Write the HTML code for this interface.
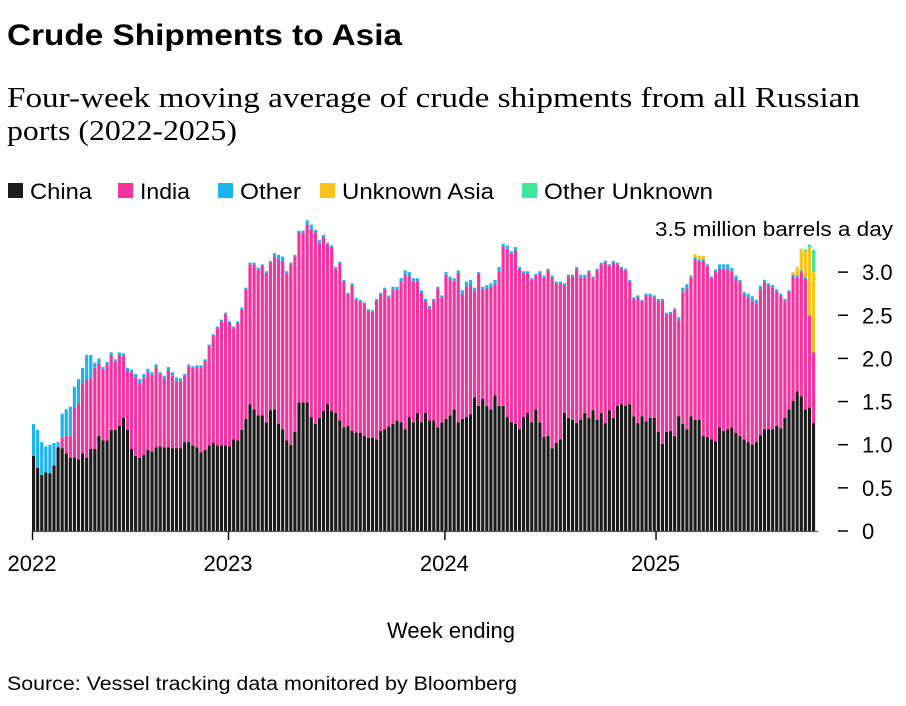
<!DOCTYPE html>
<html><head><meta charset="utf-8"><style>
body{margin:0;background:#fff;width:906px;height:701px;overflow:hidden;font-family:"Liberation Sans",sans-serif;color:#000}
</style></head><body>
<svg width="906" height="701" viewBox="0 0 906 701" id="svg">
<text x="7" y="45" font-size="30" font-weight="bold" textLength="395" lengthAdjust="spacingAndGlyphs">Crude Shipments to Asia</text>
<text x="7" y="107" font-size="28" font-family="Liberation Serif, serif" textLength="853" lengthAdjust="spacingAndGlyphs">Four-week moving average of crude shipments from all Russian</text>
<text x="7" y="140" font-size="28" font-family="Liberation Serif, serif" textLength="230" lengthAdjust="spacingAndGlyphs">ports (2022-2025)</text>
<g id="legend"></g>
<text x="893" y="236" font-size="20" text-anchor="end" textLength="238" lengthAdjust="spacingAndGlyphs">3.5 million barrels a day</text>
<g id="bars"></g>
<g id="yaxis"></g>
<g id="xaxis"></g>
<text x="451" y="638" font-size="22" text-anchor="middle">Week ending</text>
<text x="7" y="690" font-size="19" textLength="510" lengthAdjust="spacingAndGlyphs">Source: Vessel tracking data monitored by Bloomberg</text>
</svg>
<script>
const china=[.87,.73,.65,.68,.67,.76,.97,.96,.90,.85,.85,.83,.90,.85,.95,.95,1.1,1.05,1.05,1.17,1.17,1.22,1.31,1.17,.95,.87,.85,.88,.94,.92,.97,.98,.97,.97,.96,.96,.96,1.03,1.03,.99,.97,.91,.94,.99,1.02,.99,.99,.99,.98,1.06,1.05,1.17,1.3,1.47,1.41,1.34,1.34,1.26,1.4,1.41,1.24,1.18,1.05,1.0,1.15,
1.49,1.49,1.49,1.32,1.24,1.31,1.39,1.47,1.39,1.37,1.28,1.2,1.22,1.16,1.14,1.14,1.1,1.08,1.08,1.06,1.16,1.18,1.21,1.24,1.28,1.26,1.18,1.32,1.26,1.37,1.26,1.37,1.28,1.28,1.2,1.26,1.3,1.34,1.41,1.26,1.3,1.32,1.35,1.55,1.45,1.53,1.45,1.41,1.57,1.45,1.45,1.32,1.26,1.24,1.18,1.32,1.37,1.26,1.41,1.26,1.09,1.1,.96,1.02,1.06,
1.37,1.31,1.29,1.25,1.29,1.37,1.31,1.4,1.29,1.37,1.25,1.4,1.31,1.45,1.47,1.45,1.47,1.33,1.25,1.33,1.27,1.31,1.31,1.15,1.01,1.15,1.16,1.1,1.33,1.24,1.18,1.33,1.29,1.29,1.1,1.09,1.06,1.04,1.2,1.16,1.18,1.2,1.14,1.1,1.06,1.03,1.0,1.03,1.11,1.18,1.18,1.18,1.22,1.19,1.31,1.41,1.51,1.62,1.56,1.41,1.43,1.25];
const india=[0,0,0,0,0,0,0,.12,.20,.25,.58,.65,.81,.90,.82,.94,.84,.82,.88,.87,.79,.82,.72,.69,.89,.91,.86,.89,.90,.89,.93,.84,.80,.89,.84,.78,.78,.77,.88,.90,.93,.99,1.03,1.15,1.24,1.36,1.44,1.52,1.43,1.29,1.36,1.40,1.50,1.62,1.68,1.69,1.73,1.73,1.71,1.77,1.91,1.95,1.93,2.09,2.03,
1.97,1.97,2.06,2.18,2.22,2.03,2.02,1.85,1.9,1.67,1.82,1.69,1.52,1.69,1.54,1.52,1.53,1.47,1.46,1.61,1.58,1.62,1.5,1.56,1.52,1.63,1.79,1.63,1.64,1.53,1.5,1.29,1.3,1.39,1.61,1.45,1.67,1.58,1.49,1.73,1.44,1.51,1.5,1.22,1.53,1.27,1.36,1.42,1.29,1.56,1.85,1.95,1.95,2.01,1.85,1.67,1.62,1.65,1.55,1.73,1.85,1.92,1.98,1.85,1.81,
1.48,1.64,1.66,1.79,1.65,1.57,1.69,1.53,1.73,1.72,1.86,1.67,1.8,1.64,1.57,1.57,1.42,1.36,1.46,1.33,1.46,1.42,1.4,1.52,1.66,1.36,1.36,1.46,1.11,1.53,1.63,1.6,1.86,1.84,2.03,1.98,1.87,1.96,1.84,1.88,1.86,1.81,1.78,1.78,1.68,1.68,1.67,1.61,1.69,1.7,1.66,1.64,1.55,1.54,1.36,1.36,1.44,1.32,1.44,1.51,1.07,.82];
const other=[.37,.44,.38,.30,.33,.26,.06,.28,.31,.34,.24,.28,.18,.29,.27,.06,.06,.03,.03,.03,.03,.03,.03,.03,.03,.04,.05,.05,.04,.03,.03,.02,.03,.04,.04,.04,.03,.02,.02,.02,.02,.02,.02,.02,.02,.02,.02,.02,.02,.02,.02,.02,.02,.02,.02,.02,.02,.02,.02,.04,.05,.05,.03,.02,.02,
.02,.02,.05,.05,.03,.03,.02,.02,.02,.02,.02,.02,.02,.02,.02,.02,.02,.02,.02,.02,.02,.02,.02,.03,.03,.04,.05,.05,.03,.03,.03,.03,.03,.02,.02,.02,.03,.03,.03,.03,.05,.06,.06,.05,.02,.03,.04,.04,.05,.05,.03,.04,.03,.04,.03,.02,.02,.02,.02,.02,.02,.02,.02,.02,.02,
.02,.02,.02,.02,.03,.03,.02,.02,.02,.02,.02,.02,.02,.02,.02,.02,.02,.02,.02,.02,.02,.02,.02,.02,.02,.02,.02,.02,.04,.05,.05,.02,.02,.02,.02,.02,.02,.03,.05,.05,.05,.04,.04,.03,.03,.04,.05,.04,.04,.03,.03,.03,.03,.02,.02,.02,.02,.02,.02,.02,0,0];
const unknownAsia=new Array(192).fill(0);
[[161,.02],[162,.04],[163,.04],[164,.04],[186,.03],[187,.1],[188,.25],[189,.3],[190,.79],[191,.93]].forEach(p=>unknownAsia[p[0]]=p[1]);
const otherUnknown=new Array(192).fill(0);
[[189,.02],[190,.03],[191,.26]].forEach(p=>otherUnknown[p[0]]=p[1]);
const yTicks=[0,0.5,1.0,1.5,2.0,2.5,3.0];
const yTickLabels=["0","0.5","1.0","1.5","2.0","2.5","3.0"];
const xTickWeeks=[0,48,101,152.7];
const xTickLabels=["2022","2023","2024","2025"];
const seriesNames=["China","India","Other","Unknown Asia","Other Unknown"];
const seriesColors=["#1c1c1c","#f4339f","#1db3ef","#f9c31b","#3fe69c"];

const NS="http://www.w3.org/2000/svg";
const X0=32,X1=816,Y0=531,PX=86.3;
const n=china.length, pitch=(X1-X0)/n;
const xs=i=>X0+i*pitch;
const ys=v=>Y0-v*PX;
function mk(t,a){const e=document.createElementNS(NS,t);for(const k in a)e.setAttribute(k,a[k]);return e;}
const series=[china,india,other,unknownAsia,otherUnknown];
const bars=document.getElementById('bars');
for(let i=0;i<n;i++){
  let base=0;
  series.forEach((s,k)=>{
    const v=s[i]||0; if(v<=0)return;
    const r=mk('rect',{x:xs(i).toFixed(2),y:ys(base+v).toFixed(2),width:(pitch-0.9).toFixed(2),height:(v*PX).toFixed(2),fill:seriesColors[k]});
    
    
    bars.appendChild(r); base+=v;
  });
}
const ya=document.getElementById('yaxis');
yTicks.forEach((v,i)=>{
  const d=mk('line',{x1:838,x2:848,y1:ys(v),y2:ys(v),stroke:'#000','stroke-width':1.5});
  
  
  ya.appendChild(d);
  const t=mk('text',{x:862,y:(ys(v)+8).toFixed(1),'font-size':22});
  t.textContent=yTickLabels[i];
  
  
  ya.appendChild(t);
});
const xa=document.getElementById('xaxis');
const ax=mk('line',{x1:X0,x2:X1+2,y1:Y0+0.5,y2:Y0+0.5,stroke:'#555','stroke-width':1.2});


xa.appendChild(ax);
xTickWeeks.forEach((w,i)=>{
  const x=xs(w)+0.5;
  const l=mk('line',{x1:x,x2:x,y1:Y0,y2:Y0+9,stroke:'#000','stroke-width':1.4});
  
  
  xa.appendChild(l);
  const t=mk('text',{x:x-25,y:571,'font-size':22});
  t.textContent=xTickLabels[i];
  
  
  xa.appendChild(t);
});
const lg=document.getElementById('legend');
const lx=[8,118,218,320,522];
const lw=[62,50,61,152,169];
seriesNames.forEach((nm,k)=>{
  const r=mk('rect',{x:lx[k],y:183,width:15,height:15,fill:seriesColors[k]});
  
  
  lg.appendChild(r);
  const t=mk('text',{x:lx[k]+22,y:199,'font-size':22,textLength:lw[k],lengthAdjust:'spacingAndGlyphs'});
  t.textContent=nm;
  
  
  lg.appendChild(t);
});
</script>
</body></html>
